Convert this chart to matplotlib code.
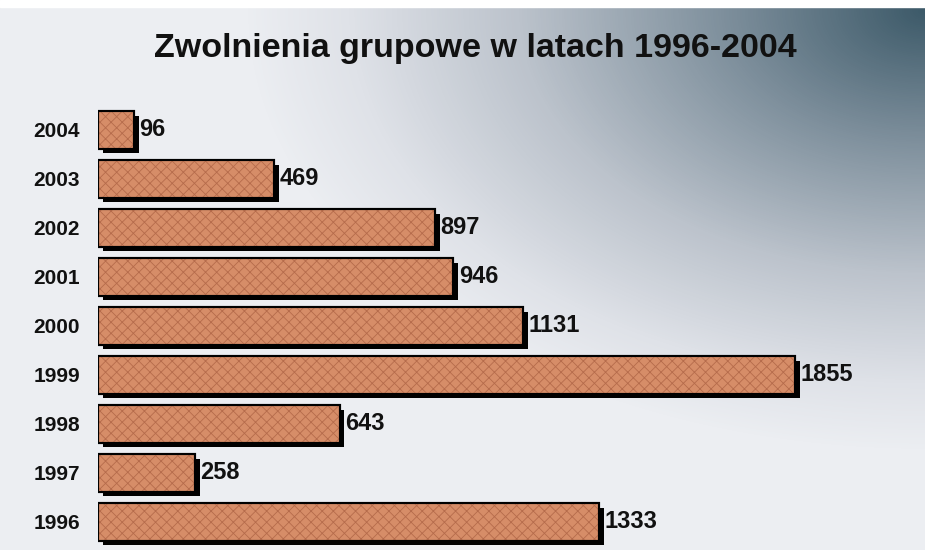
import numpy as np
import matplotlib.pyplot as plt
import matplotlib.patheffects as pe
from matplotlib.colors import LinearSegmentedColormap

# Dane
years = ['1996', '1997', '1998', '1999', '2000', '2001', '2002', '2003', '2004']
values = [1333, 258, 643, 1855, 1131, 946, 897, 469, 96]

plt.rcParams['font.family'] = ['Liberation Sans', 'DejaVu Sans']
plt.rcParams['hatch.linewidth'] = 0.6

fig = plt.figure(figsize=(9.25, 5.5), dpi=100)

# Tło z gradientem (ciemne w prawym górnym rogu)
bg = fig.add_axes([0, 0, 1, 1])
bg.set_axis_off()
W, H = 925, 550
xx, yy = np.meshgrid(np.arange(W), np.arange(H))
d = np.sqrt(((W - xx) / 680.0) ** 2 + ((yy - 10) / 440.0) ** 2)
t = np.clip(d, 0, 1)
cmap = LinearSegmentedColormap.from_list(
    'bg', [(0, '#3d5a69'), (0.3, '#7f909d'), (0.6, '#bcc3cc'), (0.85, '#dfe2e8'), (1, '#eceef2')])
bg.imshow(t, cmap=cmap, vmin=0, vmax=1, aspect='auto', extent=[0, 1, 0, 1], origin='upper')
bg.axhspan(0.987, 1, color='white')
bg.set_xlim(0, 1)
bg.set_ylim(0, 1)

ax = fig.add_axes([98 / W, 0.0064, 789 / W, 0.802])
ax.patch.set_alpha(0)
pos = np.arange(len(years))

bars = ax.barh(pos, values, height=0.76, color='#d68d68', edgecolor='black', linewidth=1.5)
for b in bars:
    b.set_path_effects([pe.SimplePatchShadow(offset=(3.5, -3.5), shadow_rgbFace='black', alpha=1),
                        pe.Normal()])
# faktura słupków
ax.barh(pos, values, height=0.76, color='none', edgecolor='#b56b4b', hatch='xxx', linewidth=0)
ax.barh(pos, values, height=0.76, color='none', edgecolor='black', linewidth=1.5)

for p, v in zip(pos, values):
    ax.annotate(str(v), (v, p), xytext=(4, 0), textcoords='offset points',
                va='center', ha='left', fontsize=17, fontweight='bold', color='#111111')

ax.set_xlim(0, 2100)
ax.set_ylim(-0.5, 8.5)
ax.set_yticks(pos)
ax.set_yticklabels(years, fontsize=15, fontweight='bold', color='#111111')
ax.tick_params(axis='y', length=0, pad=13)
ax.set_xticks([])
for s in ax.spines.values():
    s.set_visible(False)

fig.text(475 / W, 1 - 48 / H, 'Zwolnienia grupowe w latach 1996-2004', ha='center', va='center',
         fontsize=24.5, fontweight='bold', color='#111111')

fig.savefig('out.png', dpi=100)
